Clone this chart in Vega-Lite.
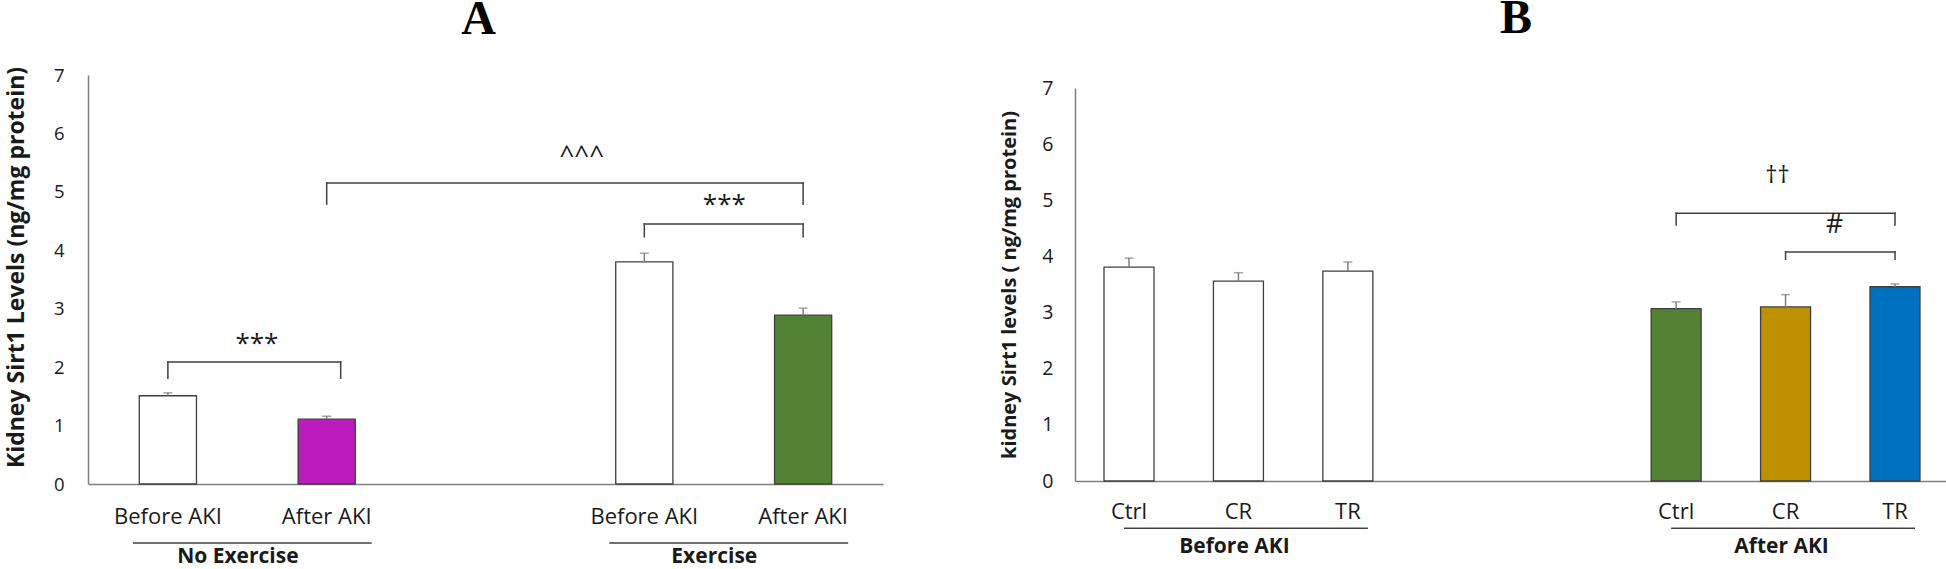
{
  "$schema": "https://vega.github.io/schema/vega-lite/v6.json",
  "background": "white",
  "padding": {"left": 5, "top": -5, "right": 0, "bottom": 0},
  "spacing": 116,
  "resolve": {"scale": {"fill": "independent", "x": "independent", "y": "independent"}},
  "config": {
    "view": {"stroke": null},
    "font": "Open Sans",
    "axis": {"domainColor": "#7f7f7f", "domainWidth": 1.5, "ticks": false, "tickSize": 0, "grid": false, "labelColor": "#1a1a1a", "labelFont": "Open Sans", "titleFont": "Open Sans", "titleFontWeight": "bold", "titleColor": "#1a1a1a"}
  },
  "datasets": {
    "barsA": [
      {"group": "NE_B", "mean": 1.51, "upper": 1.56},
      {"group": "NE_A", "mean": 1.11, "upper": 1.16},
      {"group": "E_B", "mean": 3.80, "upper": 3.95},
      {"group": "E_A", "mean": 2.89, "upper": 3.01}
    ],
    "bracketNE": [
      {"c1": "NE_B", "c2": "NE_A", "top": 2.09, "bottom": 1.81}
    ],
    "bracketsA": [
      {"c1": "NE_A", "c2": "E_A", "top": 5.15, "bottom": 4.79},
      {"c1": "E_B", "c2": "E_A", "top": 4.45, "bottom": 4.23}
    ],
    "groupsA": [
      {"c1": "NE_B", "c2": "NE_A", "label": "No Exercise"},
      {"c1": "E_B", "c2": "E_A", "label": "Exercise"}
    ],
    "barsB": [
      {"group": "B_Ctrl", "mean": 3.81, "upper": 3.97},
      {"group": "B_CR", "mean": 3.56, "upper": 3.71},
      {"group": "B_TR", "mean": 3.74, "upper": 3.90},
      {"group": "A_Ctrl", "mean": 3.07, "upper": 3.19},
      {"group": "A_CR", "mean": 3.10, "upper": 3.32},
      {"group": "A_TR", "mean": 3.46, "upper": 3.51}
    ],
    "bracketsB": [
      {"c1": "A_Ctrl", "c2": "A_TR", "top": 4.77, "bottom": 4.56},
      {"c1": "A_CR", "c2": "A_TR", "top": 4.08, "bottom": 3.95}
    ],
    "groupsB": [
      {"c1": "B_Ctrl", "c2": "B_TR", "mid": "B_CR", "label": "Before AKI"},
      {"c1": "A_Ctrl", "c2": "A_TR", "mid": "A_CR", "label": "After AKI"}
    ]
  },
  "hconcat": [
    {
      "width": 795,
      "height": 409,
      "title": {"text": "A", "font": "Liberation Serif", "fontSize": 48, "fontWeight": "bold", "color": "#000000", "anchor": "middle", "frame": "group", "dx": -7, "offset": 22},
      "layer": [
        {
          "data": {"name": "barsA"},
          "mark": {"type": "bar", "stroke": "#3f3f3f", "strokeWidth": 1.3},
          "encoding": {
            "x": {"field": "group", "type": "nominal", "sort": null,
              "scale": {"domain": ["NE_B", "NE_A", "gap", "E_B", "E_A"], "paddingInner": 0.64, "paddingOuter": 0.323},
              "axis": {"title": null, "labelAngle": 0, "labelFontSize": 22, "labelPadding": 22,
                "labelExpr": "datum.value == 'gap' ? '' : ((datum.value == 'NE_B' || datum.value == 'E_B') ? 'Before AKI' : 'After AKI')"}},
            "y": {"field": "mean", "type": "quantitative",
              "scale": {"domain": [0, 7], "nice": false},
              "axis": {"title": "Kidney Sirt1 Levels (ng/mg protein)", "values": [0, 1, 2, 3, 4, 5, 6, 7], "format": "d", "labelFontSize": 18.5, "labelPadding": 24, "titleFontSize": 23, "titlePadding": 25, "titleY": 192}},
            "fill": {"field": "group", "type": "nominal", "legend": null,
              "scale": {"domain": ["NE_B", "NE_A", "E_B", "E_A"], "range": ["#ffffff", "#bd1bbd", "#ffffff", "#548235"]}}
          }
        },
        {
          "data": {"name": "barsA"},
          "mark": {"type": "rule", "color": "#7f7f7f", "strokeWidth": 1.5},
          "encoding": {
            "x": {"field": "group", "type": "nominal"},
            "y": {"field": "mean", "type": "quantitative"},
            "y2": {"field": "upper"}
          }
        },
        {
          "data": {"name": "barsA"},
          "mark": {"type": "tick", "color": "#7f7f7f", "thickness": 1.5, "size": 9},
          "encoding": {
            "x": {"field": "group", "type": "nominal"},
            "y": {"field": "upper", "type": "quantitative"}
          }
        },
        {
          "data": {"name": "bracketNE"},
          "mark": {"type": "rule", "color": "#404040", "strokeWidth": 1.5, "strokeCap": "square", "x2Offset": 14},
          "encoding": {
            "x": {"field": "c1", "type": "nominal"},
            "x2": {"field": "c2"},
            "y": {"field": "top", "type": "quantitative"}
          }
        },
        {
          "data": {"name": "bracketNE"},
          "mark": {"type": "rule", "color": "#404040", "strokeWidth": 1.5, "strokeCap": "square"},
          "encoding": {
            "x": {"field": "c1", "type": "nominal"},
            "y": {"field": "top", "type": "quantitative"},
            "y2": {"field": "bottom"}
          }
        },
        {
          "data": {"name": "bracketNE"},
          "mark": {"type": "rule", "color": "#404040", "strokeWidth": 1.5, "strokeCap": "square", "xOffset": 14},
          "encoding": {
            "x": {"field": "c2", "type": "nominal"},
            "y": {"field": "top", "type": "quantitative"},
            "y2": {"field": "bottom"}
          }
        },
        {
          "data": {"name": "bracketsA"},
          "mark": {"type": "rule", "color": "#404040", "strokeWidth": 1.5, "strokeCap": "square"},
          "encoding": {
            "x": {"field": "c1", "type": "nominal"},
            "x2": {"field": "c2"},
            "y": {"field": "top", "type": "quantitative"}
          }
        },
        {
          "data": {"name": "bracketsA"},
          "mark": {"type": "rule", "color": "#404040", "strokeWidth": 1.5, "strokeCap": "square"},
          "encoding": {
            "x": {"field": "c1", "type": "nominal"},
            "y": {"field": "top", "type": "quantitative"},
            "y2": {"field": "bottom"}
          }
        },
        {
          "data": {"name": "bracketsA"},
          "mark": {"type": "rule", "color": "#404040", "strokeWidth": 1.5, "strokeCap": "square"},
          "encoding": {
            "x": {"field": "c2", "type": "nominal"},
            "y": {"field": "top", "type": "quantitative"},
            "y2": {"field": "bottom"}
          }
        },
        {
          "data": {"values": [{"at": "NE_B", "y": 2.40, "label": "***"}]},
          "mark": {"type": "text", "fontSize": 26, "dx": 89, "baseline": "middle", "color": "#1a1a1a"},
          "encoding": {
            "x": {"field": "at", "type": "nominal"},
            "y": {"field": "y", "type": "quantitative"},
            "text": {"field": "label"}
          }
        },
        {
          "data": {"values": [{"at": "NE_A", "y": 5.61, "label": "^^^"}]},
          "mark": {"type": "text", "fontSize": 26, "dx": 255, "baseline": "middle", "color": "#1a1a1a"},
          "encoding": {
            "x": {"field": "at", "type": "nominal"},
            "y": {"field": "y", "type": "quantitative"},
            "text": {"field": "label"}
          }
        },
        {
          "data": {"values": [{"at": "E_B", "y": 4.78, "label": "***"}]},
          "mark": {"type": "text", "fontSize": 26, "dx": 80, "baseline": "middle", "color": "#1a1a1a"},
          "encoding": {
            "x": {"field": "at", "type": "nominal"},
            "y": {"field": "y", "type": "quantitative"},
            "text": {"field": "label"}
          }
        },
        {
          "data": {"name": "groupsA"},
          "mark": {"type": "rule", "color": "#404040", "strokeWidth": 1.5, "xOffset": -35, "x2Offset": 45},
          "encoding": {
            "x": {"field": "c1", "type": "nominal"},
            "x2": {"field": "c2"},
            "y": {"datum": -1.01, "type": "quantitative"}
          }
        },
        {
          "data": {"name": "groupsA"},
          "mark": {"type": "text", "fontSize": 21, "fontWeight": "bold", "dx": 70, "baseline": "middle", "color": "#1a1a1a"},
          "encoding": {
            "x": {"field": "c1", "type": "nominal"},
            "y": {"datum": -1.25, "type": "quantitative"},
            "text": {"field": "label"}
          }
        }
      ]
    },
    {
      "title": {"text": "B", "font": "Liberation Serif", "fontSize": 48, "fontWeight": "bold", "color": "#000000", "anchor": "middle", "frame": "group", "dx": 441, "offset": 32},
      "spacing": 0,
      "vconcat": [
        {
          "width": 874,
          "height": 3,
          "data": {"values": []},
          "mark": {"type": "rule"},
          "encoding": {}
        },
        {
          "width": 874,
          "height": 393,
          "layer": [
            {
              "data": {"name": "barsB"},
              "mark": {"type": "bar", "stroke": "#3f3f3f", "strokeWidth": 1.3},
              "encoding": {
                "x": {"field": "group", "type": "nominal", "sort": null,
                  "scale": {"domain": ["B_Ctrl", "B_CR", "B_TR", "gap1", "gap2", "A_Ctrl", "A_CR", "A_TR"], "paddingInner": 0.543, "paddingOuter": 0.265},
                  "axis": {"title": null, "labelAngle": 0, "labelFontSize": 22, "labelPadding": 20,
                    "labelExpr": "indexof(datum.value, '_') < 0 ? '' : slice(datum.value, indexof(datum.value, '_') + 1)"}},
                "y": {"field": "mean", "type": "quantitative",
                  "scale": {"domain": [0, 7], "nice": false},
                  "axis": {"title": "kidney Sirt1 levels ( ng/mg protein)", "values": [0, 1, 2, 3, 4, 5, 6, 7], "format": "d", "labelFontSize": 19.5, "labelPadding": 22, "titleFontSize": 20, "titlePadding": 22}},
                "fill": {"field": "group", "type": "nominal", "legend": null,
                  "scale": {"domain": ["B_Ctrl", "B_CR", "B_TR", "A_Ctrl", "A_CR", "A_TR"], "range": ["#ffffff", "#ffffff", "#ffffff", "#548235", "#bf9000", "#0070c0"]}}
              }
            },
            {
              "data": {"name": "barsB"},
              "mark": {"type": "rule", "color": "#7f7f7f", "strokeWidth": 1.5},
              "encoding": {
                "x": {"field": "group", "type": "nominal"},
                "y": {"field": "mean", "type": "quantitative"},
                "y2": {"field": "upper"}
              }
            },
            {
              "data": {"name": "barsB"},
              "mark": {"type": "tick", "color": "#7f7f7f", "thickness": 1.5, "size": 9},
              "encoding": {
                "x": {"field": "group", "type": "nominal"},
                "y": {"field": "upper", "type": "quantitative"}
              }
            },
            {
              "data": {"name": "bracketsB"},
              "mark": {"type": "rule", "color": "#404040", "strokeWidth": 1.5, "strokeCap": "square"},
              "encoding": {
                "x": {"field": "c1", "type": "nominal"},
                "x2": {"field": "c2"},
                "y": {"field": "top", "type": "quantitative"}
              }
            },
            {
              "data": {"name": "bracketsB"},
              "mark": {"type": "rule", "color": "#404040", "strokeWidth": 1.5, "strokeCap": "square"},
              "encoding": {
                "x": {"field": "c1", "type": "nominal"},
                "y": {"field": "top", "type": "quantitative"},
                "y2": {"field": "bottom"}
              }
            },
            {
              "data": {"name": "bracketsB"},
              "mark": {"type": "rule", "color": "#404040", "strokeWidth": 1.5, "strokeCap": "square"},
              "encoding": {
                "x": {"field": "c2", "type": "nominal"},
                "y": {"field": "top", "type": "quantitative"},
                "y2": {"field": "bottom"}
              }
            },
            {
              "data": {"values": [{"at": "A_CR", "y": 5.43, "label": "††"}]},
              "mark": {"type": "text", "fontSize": 24, "dx": -8, "baseline": "middle", "color": "#1a1a1a"},
              "encoding": {
                "x": {"field": "at", "type": "nominal"},
                "y": {"field": "y", "type": "quantitative"},
                "text": {"field": "label"}
              }
            },
            {
              "data": {"values": [{"at": "A_CR", "y": 4.56, "label": "#"}]},
              "mark": {"type": "text", "fontSize": 27, "dx": 49, "baseline": "middle", "color": "#1a1a1a"},
              "encoding": {
                "x": {"field": "at", "type": "nominal"},
                "y": {"field": "y", "type": "quantitative"},
                "text": {"field": "label"}
              }
            },
            {
              "data": {"name": "groupsB"},
              "mark": {"type": "rule", "color": "#404040", "strokeWidth": 1.5, "xOffset": -5, "x2Offset": 20},
              "encoding": {
                "x": {"field": "c1", "type": "nominal"},
                "x2": {"field": "c2"},
                "y": {"datum": -0.84, "type": "quantitative"}
              }
            },
            {
              "data": {"name": "groupsB"},
              "mark": {"type": "text", "fontSize": 21, "fontWeight": "bold", "dx": -4, "baseline": "middle", "color": "#1a1a1a"},
              "encoding": {
                "x": {"field": "mid", "type": "nominal"},
                "y": {"datum": -1.17, "type": "quantitative"},
                "text": {"field": "label"}
              }
            }
          ]
        }
      ]
    }
  ]
}
